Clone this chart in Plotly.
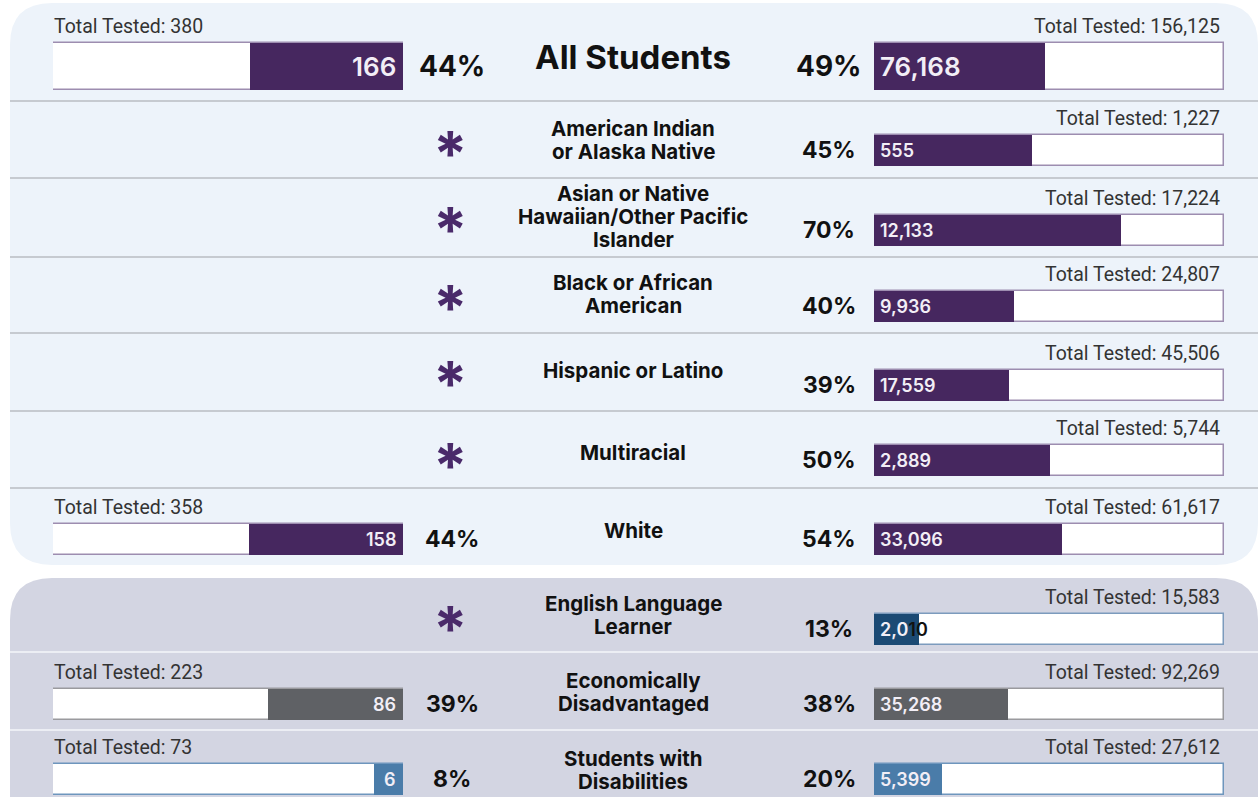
import plotly.graph_objects as go

# ---------------- data ----------------
categories = ["All Students", "American Indian<br>or Alaska Native",
              "Asian or Native<br>Hawaiian/Other Pacific<br>Islander",
              "Black or African<br>American", "Hispanic or Latino", "Multiracial",
              "White", "English Language<br>Learner", "Economically<br>Disadvantaged",
              "Students with<br>Disabilities"]
left_tested = [380, None, None, None, None, None, 358, None, 223, 73]
left_proficient = [166, None, None, None, None, None, 158, None, 86, 6]
right_tested = [156125, 1227, 17224, 24807, 45506, 5744, 61617, 15583, 92269, 27612]
right_proficient = [76168, 555, 12133, 9936, 17559, 2889, 33096, 2010, 35268, 5399]

# ---------------- layout / style ----------------
W, H = 1259, 797
bar_y = [66, 150, 230, 306, 385, 460, 539, 629, 704, 779]
bar_h = [47, 31, 31, 31, 31, 31, 31, 31, 31, 31]
label_y = [57, 140, 216, 294, 370, 452, 530, 615, 692, 770]
LINE_GAP = 23
PURPLE, PURPLE_LINE = "#46275F", "#9D8DB0"
fill_col = [PURPLE] * 7 + ["#1B4A74", "#5F6165", "#4A7CA9"]
line_col = [PURPLE_LINE] * 7 + ["#7C9BBD", "#9A9A9E", "#6E96BD"]
FONT = "Inter"
LEFT_DOM = (53 / W, 403 / W)
RIGHT_DOM = (874 / W, 1224 / W)


def px(x):
    return x / W


def py(y):
    return 1 - y / H


n = len(categories)
lf = [None if t is None else p / t for p, t in zip(left_proficient, left_tested)]
rf = [p / t for p, t in zip(right_proficient, right_tested)]

fig = go.Figure()

# left bars (reversed axis: fill grows from the right edge)
lrows = [i for i in range(n) if left_tested[i] is not None]
fig.add_trace(go.Bar(orientation="h", x=[1] * len(lrows), y=[bar_y[i] for i in lrows],
                     width=[bar_h[i] for i in lrows], base=0, cliponaxis=False,
                     marker=dict(color="white", line=dict(color=[line_col[i] for i in lrows], width=1.5)),
                     xaxis="x", yaxis="y", hoverinfo="skip"))
fig.add_trace(go.Bar(orientation="h", x=[lf[i] for i in lrows], y=[bar_y[i] for i in lrows],
                     width=[bar_h[i] for i in lrows], base=0, cliponaxis=False,
                     marker=dict(color=[fill_col[i] for i in lrows], line=dict(width=0)),
                     xaxis="x", yaxis="y", hoverinfo="skip"))
# right bars
fig.add_trace(go.Bar(orientation="h", x=[1] * n, y=bar_y, width=bar_h, base=0, cliponaxis=False,
                     marker=dict(color="white", line=dict(color=line_col, width=1.5)),
                     xaxis="x2", yaxis="y", hoverinfo="skip"))
fig.add_trace(go.Bar(orientation="h", x=rf, y=bar_y, width=bar_h, base=0, cliponaxis=False,
                     marker=dict(color=fill_col, line=dict(width=0)),
                     xaxis="x2", yaxis="y", hoverinfo="skip"))

shapes = []


def rounded(x0, y0, x1, y1, r):
    X0, X1, Y0, Y1 = px(x0), px(x1), py(y0), py(y1)
    rx, ry = r / W, r / H
    return (f"M {X0+rx},{Y0} L {X1-rx},{Y0} Q {X1},{Y0} {X1},{Y0-ry} L {X1},{Y1+ry} "
            f"Q {X1},{Y1} {X1-rx},{Y1} L {X0+rx},{Y1} Q {X0},{Y1} {X0},{Y1+ry} "
            f"L {X0},{Y0-ry} Q {X0},{Y0} {X0+rx},{Y0} Z")


shapes.append(dict(type="path", xref="paper", yref="paper", path=rounded(10, 3, 1258, 565, 42),
                   fillcolor="#EDF3FA", line=dict(width=0), layer="below"))
shapes.append(dict(type="path", xref="paper", yref="paper", path=rounded(10, 578, 1258, 860, 42),
                   fillcolor="#D3D5E2", line=dict(width=0), layer="below"))
for yy in [101, 178, 257, 333, 411, 488]:
    shapes.append(dict(type="line", xref="paper", yref="paper", x0=px(10), x1=px(1258), y0=py(yy), y1=py(yy),
                       line=dict(color="#C6CAD0", width=2), layer="below"))
for yy in [652, 730]:
    shapes.append(dict(type="line", xref="paper", yref="paper", x0=px(10), x1=px(1258), y0=py(yy), y1=py(yy),
                       line=dict(color="#ECEEF4", width=2), layer="below"))

ann = []
TT_FONT = dict(family="Roboto", size=19.5, color="#333")
for i in range(n):
    big = i == 0
    # category label, one annotation per line for tight line spacing
    lines = categories[i].split("<br>")
    m = len(lines)
    for k, ln in enumerate(lines):
        ann.append(dict(xref="paper", yref="y", x=px(633), y=label_y[i] + (k - (m - 1) / 2) * LINE_GAP,
                        text=ln, showarrow=False,
                        font=dict(family=FONT, size=33 if big else 20.5, color="#111", weight=700),
                        xanchor="center", yanchor="middle"))
    # right side
    top = bar_y[i] - bar_h[i] / 2
    ann.append(dict(xref="x2", yref="y", x=1, y=top - 16, text=f"Total Tested: {right_tested[i]:,}",
                    showarrow=False, xanchor="right", yanchor="middle", xshift=-2, font=TT_FONT))
    ann.append(dict(xref="paper", yref="y", x=px(829), y=bar_y[i], text=f"{round(100*rf[i])}%",
                    showarrow=False, xanchor="center", yanchor="middle",
                    font=dict(family=FONT, size=28 if big else 23, color="#111", weight=700)))
    fs = 26 if big else 18
    lab = f"{right_proficient[i]:,}"
    bar_px = rf[i] * (RIGHT_DOM[1] - RIGHT_DOM[0]) * W
    cw = fs * 0.6
    fit = int((bar_px - 5) / cw)
    if fit < len(lab):
        lab = f"{lab[:fit]}<span style='color:#111'>{lab[fit:]}</span>"
    ann.append(dict(xref="x2", yref="y", x=0, y=bar_y[i], text=lab, showarrow=False,
                    xanchor="left", yanchor="middle", xshift=4,
                    font=dict(family=FONT, size=fs, color="#F2EEF6", weight=600)))
    # left side
    if left_tested[i] is not None:
        ann.append(dict(xref="x", yref="y", x=1, y=top - 16, text=f"Total Tested: {left_tested[i]:,}",
                        showarrow=False, xanchor="left", yanchor="middle", xshift=-1, font=TT_FONT))
        ann.append(dict(xref="paper", yref="y", x=px(452), y=bar_y[i], text=f"{round(100*lf[i])}%",
                        showarrow=False, xanchor="center", yanchor="middle",
                        font=dict(family=FONT, size=28 if big else 23, color="#111", weight=700)))
        ann.append(dict(xref="x", yref="y", x=0, y=bar_y[i], text=f"{left_proficient[i]:,}",
                        showarrow=False, xanchor="right", yanchor="middle", xshift=-5,
                        font=dict(family=FONT, size=fs, color="#F2EEF6", weight=600)))
    else:
        ann.append(dict(xref="paper", yref="y", x=px(450), y=label_y[i] - 2, text="*", showarrow=False,
                        xanchor="center", yanchor="middle", yshift=-15,
                        font=dict(family=FONT, size=62, color="#4A2A6A", weight=700)))

hidden = dict(visible=False, showgrid=False, zeroline=False, fixedrange=True)
fig.update_layout(
    width=W, height=H, autosize=False, margin=dict(l=0, r=0, t=0, b=0),
    paper_bgcolor="white", plot_bgcolor="rgba(0,0,0,0)", showlegend=False,
    barmode="overlay", bargap=0,
    xaxis=dict(domain=list(LEFT_DOM), range=[1, 0], anchor="y", **hidden),
    xaxis2=dict(domain=list(RIGHT_DOM), range=[0, 1], anchor="y", **hidden),
    yaxis=dict(domain=[0, 1], range=[H, 0], **hidden),
    shapes=shapes, annotations=ann,
)
fig.write_html("out.html", config={"displayModeBar": False},
               post_script="document.body.style.margin='0';")
